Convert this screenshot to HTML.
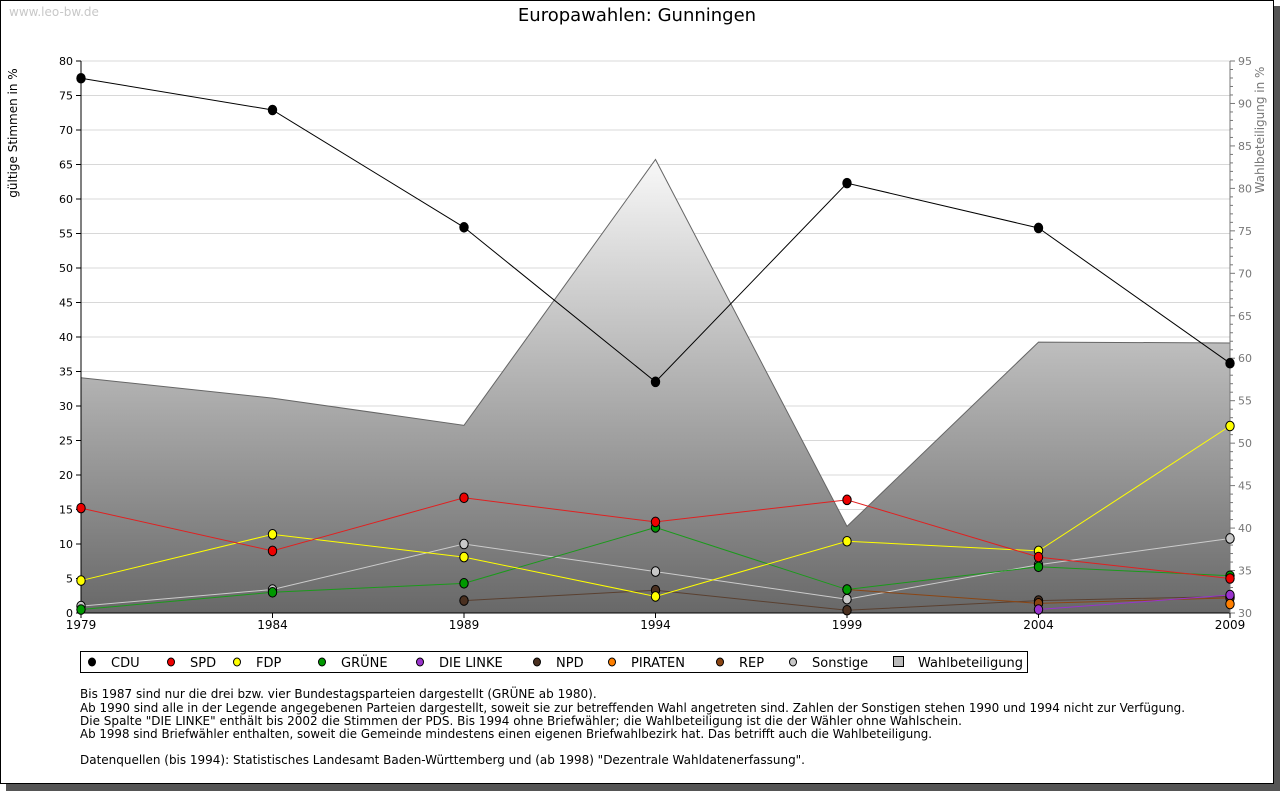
<!DOCTYPE html>
<html><head><meta charset="utf-8"><style>
body{margin:0;background:#fff;}
svg{display:block;font-family:"DejaVu Sans","Liberation Sans",sans-serif;}
</style></head><body>
<svg id="c" width="1280" height="791" xmlns="http://www.w3.org/2000/svg">
<defs>
<linearGradient id="ag" x1="0" y1="160" x2="0" y2="613" gradientUnits="userSpaceOnUse">
<stop offset="0" stop-color="#f8f8f8"/><stop offset="1" stop-color="#686868"/>
</linearGradient>
</defs>
<rect x="6" y="6" width="1274" height="785" fill="#555"/>
<rect x="0.5" y="0.5" width="1273" height="783" fill="#fff" stroke="#000"/>
<text x="9" y="16" font-size="12" fill="#c8c8c8">www.leo-bw.de</text>
<text x="637" y="21" font-size="18" text-anchor="middle">Europawahlen: Gunningen</text>
<text transform="translate(17,133) rotate(-90)" font-size="12" text-anchor="middle">gültige Stimmen in %</text>
<text transform="translate(1264,130) rotate(-90)" font-size="12" fill="#777" text-anchor="middle">Wahlbeteiligung in %</text>
<g id="grid"></g><g id="area"></g><g id="axes"></g><g id="series"></g><g id="legend"></g>
<g font-size="12">
<text x="80" y="698">Bis 1987 sind nur die drei bzw. vier Bundestagsparteien dargestellt (GRÜNE ab 1980).</text>
<text x="80" y="712" textLength="1105" lengthAdjust="spacingAndGlyphs">Ab 1990 sind alle in der Legende angegebenen Parteien dargestellt, soweit sie zur betreffenden Wahl angetreten sind. Zahlen der Sonstigen stehen 1990 und 1994 nicht zur Verfügung.</text>
<text x="80" y="725" textLength="882" lengthAdjust="spacingAndGlyphs">Die Spalte "DIE LINKE" enthält bis 2002 die Stimmen der PDS. Bis 1994 ohne Briefwähler; die Wahlbeteiligung ist die der Wähler ohne Wahlschein.</text>
<text x="80" y="738" textLength="852" lengthAdjust="spacingAndGlyphs">Ab 1998 sind Briefwähler enthalten, soweit die Gemeinde mindestens einen eigenen Briefwahlbezirk hat. Das betrifft auch die Wahlbeteiligung.</text>
<text x="80" y="764" textLength="725" lengthAdjust="spacingAndGlyphs">Datenquellen (bis 1994): Statistisches Landesamt Baden-Württemberg und (ab 1998) "Dezentrale Wahldatenerfassung".</text>
</g>
</svg>
<script>
const years=[1979,1984,1989,1994,1999,2004,2009];
const leftTicks=[0,5,10,15,20,25,30,35,40,45,50,55,60,65,70,75,80];
const rightTicks=[30,35,40,45,50,55,60,65,70,75,80,85,90,95];
const turnout=[57.7,55.3,52.1,83.4,40.2,61.9,61.8];
const cdu=[77.5,72.9,55.9,33.5,62.3,55.8,36.2];
const spd=[15.2,9.0,16.7,13.2,16.4,8.1,5.0];
const fdp=[4.7,11.4,8.1,2.4,10.4,9.0,27.1];
const gruene=[0.5,3.0,4.3,12.4,3.4,6.7,5.4];
const linke=[null,null,null,null,null,0.5,2.6];
const npd=[null,null,1.8,3.3,0.4,1.8,2.4];
const piraten=[null,null,null,null,null,null,1.3];
const rep=[null,null,null,null,3.4,1.4,2.2];
const sonstige=[1.0,3.4,10.0,6.0,2.0,7.0,10.8];
const seriesNames=["Sonstige","NPD","REP","GRÜNE","FDP","SPD","DIE LINKE","PIRATEN","CDU"];
const seriesData=[sonstige,npd,rep,gruene,fdp,spd,linke,piraten,cdu];
const seriesLine=["#ccc","#5a4030","#8b4513","#1a9a1a","#ffff00","#e02020","#9933cc","#ff7f00","#000"];
const seriesFill=["#c8c8c8","#4a3020","#8b4513","#009900","#ffff00","#ee0000","#9933cc","#ff7f00","#000"];
const NS="http://www.w3.org/2000/svg";
const X0=81,X1=1230,Y0=613,Y1=61;
const xs=y=>X0+(y-1979)/(2009-1979)*(X1-X0);
const yl=v=>Y0-v/80*(Y0-Y1);
const yr=v=>Y0-(v-30)/65*(Y0-Y1);
function mk(p,t,a){const e=document.createElementNS(NS,t);for(const k in a)e.setAttribute(k,a[k]);p.appendChild(e);return e;}
const G=id=>document.getElementById(id);
// grid
leftTicks.forEach(v=>{if(v>0){const l=mk(G('grid'),'line',{x1:X0,x2:X1,y1:yl(v),y2:yl(v),stroke:'#d8d8d8'});

}});
// area
let d='M'+xs(years[0])+','+Y0;
years.forEach((y,i)=>d+=' L'+xs(y)+','+yr(turnout[i]));
d+=' L'+xs(years[years.length-1])+','+Y0+' Z';
const ar=mk(G('area'),'path',{d:d,fill:'url(#ag)'});


let d2='';years.forEach((y,i)=>d2+=(i?' L':'M')+xs(y)+','+yr(turnout[i]));
const al=mk(G('area'),'path',{d:d2,fill:'none',stroke:'#666'});


// axes
const ax=G('axes');
mk(ax,'line',{x1:X0,x2:X0,y1:Y1,y2:Y0,stroke:'#000'});
mk(ax,'line',{x1:X0,x2:X1,y1:Y0,y2:Y0,stroke:'#000'});
mk(ax,'line',{x1:X1,x2:X1,y1:Y1,y2:Y0,stroke:'#777'});
leftTicks.forEach(v=>{mk(ax,'line',{x1:X0-5,x2:X0,y1:yl(v),y2:yl(v),stroke:'#000'});
const t=mk(ax,'text',{x:X0-8,y:yl(v)+4,'font-size':11,'text-anchor':'end'});t.textContent=v;

});
for(let v=30;v<=95;v++){mk(ax,'line',{x1:X1,x2:X1+(v%5?3:5),y1:yr(v),y2:yr(v),stroke:'#777'});}
rightTicks.forEach(v=>{const t=mk(ax,'text',{x:X1+8,y:yr(v)+4,'font-size':11,fill:'#777'});t.textContent=v;

});
years.forEach(y=>{mk(ax,'line',{x1:xs(y),x2:xs(y),y1:Y0,y2:Y0+5,stroke:'#000'});
const t=mk(ax,'text',{x:xs(y),y:Y0+16,'font-size':12,'text-anchor':'middle'});t.textContent=y;

});
// series
seriesData.forEach((arr,si)=>{
 const g=mk(G('series'),'g',{});
 
 
 let dd='',first=true;
 arr.forEach((v,i)=>{if(v==null)return;dd+=(first?'M':' L')+xs(years[i])+','+yl(v);first=false;});
 mk(g,'path',{d:dd,fill:'none',stroke:seriesLine[si]});
 arr.forEach((v,i)=>{if(v==null)return;
  const c=mk(g,'ellipse',{cx:xs(years[i]),cy:yl(v),rx:4.2,ry:4.8,fill:seriesFill[si],stroke:'#000','stroke-width':1});
  
  });
});
// legend
const lg=G('legend');
const lb=mk(lg,'rect',{x:80.5,y:651.5,width:947,height:21,fill:'#fff',stroke:'#000'});


const legNames=["CDU","SPD","FDP","GRÜNE","DIE LINKE","NPD","PIRATEN","REP","Sonstige"];
const legColors=["#000","#ee0000","#ffff00","#009900","#9933cc","#4a3020","#ff7f00","#8b4513","#c8c8c8"];
const legX=[92,171,237,322,420,537,612,720,793];
legNames.forEach((n,i)=>{
 const e=mk(lg,'ellipse',{cx:legX[i],cy:662,rx:3.5,ry:4,fill:legColors[i],stroke:'#000'});
 
 
 const t=mk(lg,'text',{x:legX[i]+19,y:667,'font-size':13});t.textContent=n;
 
 
});
const sq=mk(lg,'rect',{x:893.5,y:656.5,width:10,height:10,fill:'#bbb',stroke:'#000'});


const wt=mk(lg,'text',{x:918,y:667,'font-size':13});wt.textContent='Wahlbeteiligung';


</script>
</body></html>
